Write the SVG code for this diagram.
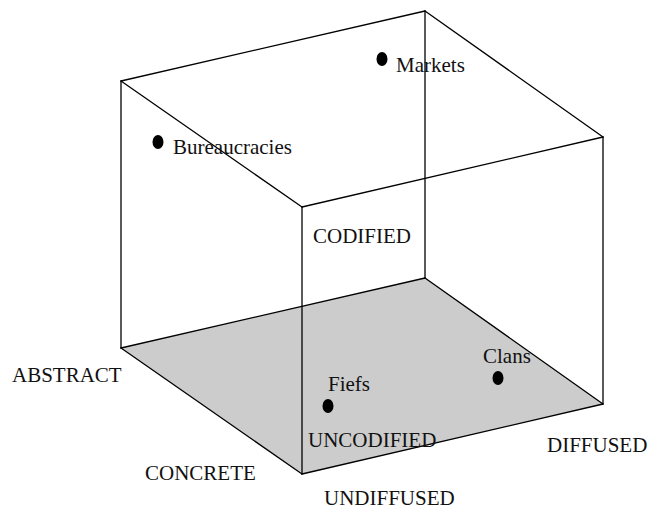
<svg xmlns="http://www.w3.org/2000/svg" width="648" height="510" viewBox="0 0 648 510">
<style>
.e{stroke:#000;stroke-width:1.3;fill:none;stroke-linecap:round}
.t{font-family:"Liberation Serif","Times New Roman",serif;font-size:21px;fill:#111}
.d{fill:#000}
</style>
<rect width="648" height="510" fill="#fff"/>
<polygon id="floor" points="121,348 425,278 603,404 302,474" fill="#cccccc"/>
<g id="connectors">
<line class="e" x1="121" y1="81" x2="425" y2="11"/>
<line class="e" x1="425" y1="11" x2="603" y2="137"/>
<line class="e" x1="603" y1="137" x2="302" y2="207"/>
<line class="e" x1="302" y1="207" x2="121" y2="81"/>
<line class="e" x1="121" y1="81" x2="121" y2="348"/>
<line class="e" x1="425" y1="11" x2="425" y2="278"/>
<line class="e" x1="603" y1="137" x2="603" y2="404"/>
<line class="e" x1="302" y1="207" x2="302" y2="474"/>
<line class="e" x1="121" y1="348" x2="425" y2="278"/>
<line class="e" x1="425" y1="278" x2="603" y2="404"/>
<line class="e" x1="603" y1="404" x2="302" y2="474"/>
<line class="e" x1="302" y1="474" x2="121" y2="348"/>
</g>
<g id="markets"><ellipse class="d" cx="382" cy="59" rx="5.5" ry="7"/><text class="t" x="396" y="72">Markets</text></g>
<g id="bureaucracies"><ellipse class="d" cx="158" cy="142" rx="5.5" ry="7"/><text class="t" x="173" y="154">Bureaucracies</text></g>
<g id="fiefs"><ellipse class="d" cx="328" cy="406" rx="5.5" ry="7"/><text class="t" x="328" y="391">Fiefs</text></g>
<g id="clans"><ellipse class="d" cx="498" cy="378" rx="5.5" ry="7"/><text class="t" x="483" y="363">Clans</text></g>
<g id="labels">
<text class="t" x="313" y="243">CODIFIED</text>
<text class="t" x="12" y="382">ABSTRACT</text>
<text class="t" x="145" y="480">CONCRETE</text>
<text class="t" x="308" y="447">UNCODIFIED</text>
<text class="t" x="547" y="452">DIFFUSED</text>
<text class="t" x="324" y="505">UNDIFFUSED</text>
</g>
</svg>
